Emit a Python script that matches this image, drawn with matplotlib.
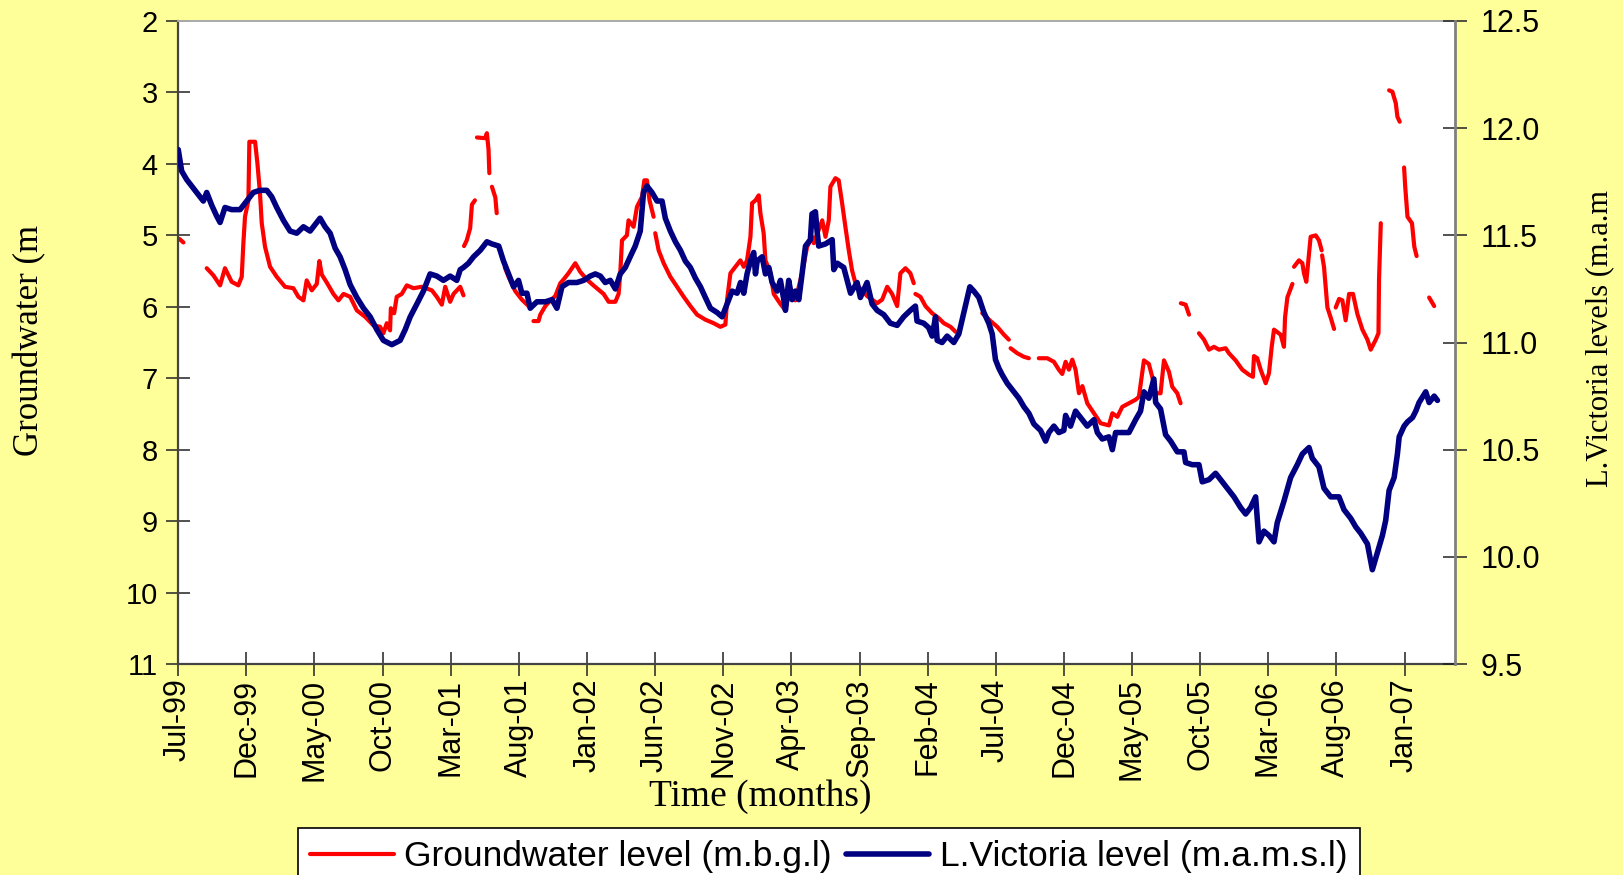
import matplotlib
matplotlib.use("Agg")
import matplotlib.pyplot as plt
import numpy as np
import pandas as pd

# months since Jul-1999 and levels
lake_month = [
    0.02, 0.27, 0.64, 1.0, 1.37, 1.86, 2.11, 2.48, 2.84, 3.09, 3.45, 3.94, 4.56, 5.05, 5.53,
    6.02, 6.52, 6.88, 7.25, 7.74, 8.23, 8.72, 9.21, 9.7, 10.19, 10.43, 10.8, 11.17, 11.54,
    11.9, 12.27, 12.64, 13.13, 13.62, 14.11, 14.6, 15.08, 15.7, 16.31, 16.68, 17.05, 17.54,
    18.02, 18.51, 19.0, 19.49, 19.98, 20.47, 20.72, 20.96, 21.33, 21.7, 22.19, 22.68, 23.05,
    23.55, 23.9, 24.27, 24.64, 25.0, 25.25, 25.62, 25.86, 26.35, 26.97, 27.46, 27.82, 28.19,
    28.67, 29.29, 29.78, 30.27, 30.64, 31.01, 31.37, 31.74, 32.11, 32.47, 32.84, 33.2, 33.57,
    33.94, 34.18, 34.43, 34.8, 35.17, 35.54, 35.78, 36.15, 36.52, 36.89, 37.25, 37.62, 37.99,
    38.36, 38.72, 39.09, 39.58, 39.95, 40.44, 40.68, 41.05, 41.3, 41.54, 41.78, 42.03, 42.27,
    42.4, 42.52, 42.89, 43.13, 43.38, 43.62, 43.99, 44.23, 44.48, 44.6, 44.84, 45.09, 45.33,
    45.58, 45.82, 46.07, 46.43, 46.55, 46.8, 46.92, 47.04, 47.54, 48.03, 48.15, 48.4, 48.88,
    49.13, 49.38, 49.86, 50.1, 50.59, 50.96, 51.33, 51.82, 52.3, 52.8, 53.28, 53.77, 54.14,
    54.26, 54.75, 55.11, 55.37, 55.62, 55.74, 56.1, 56.47, 56.96, 57.33, 57.7, 58.14, 58.43,
    58.8, 59.17, 59.53, 59.78, 60.02, 60.27, 60.51, 60.88, 61.25, 61.74, 62.11, 62.47, 62.84,
    63.33, 63.7, 63.94, 64.31, 64.67, 65.04, 65.17, 65.53, 65.9, 66.27, 66.76, 67.25, 67.5,
    67.86, 68.35, 68.6, 68.84, 69.33, 69.82, 70.31, 70.67, 70.92, 71.28, 71.65, 71.78, 72.14,
    72.51, 72.88, 73.37, 73.86, 73.98, 74.47, 74.96, 75.2, 75.69, 76.18, 76.43, 77.04, 77.53,
    78.02, 78.39, 78.75, 79.12, 79.37, 79.73, 80.1, 80.47, 80.71, 81.2, 81.69, 82.18, 82.55,
    83.04, 83.28, 83.77, 84.14, 84.63, 85.24, 85.61, 86.1, 86.47, 86.84, 87.33, 87.69, 88.06,
    88.43, 88.67, 88.92, 89.29, 89.53, 89.66, 90.02, 90.27, 90.64, 90.88, 91.12, 91.61, 91.86,
    92.23, 92.47,
]
lake_level = [
    11.90, 11.80, 11.76, 11.73, 11.70, 11.66, 11.70, 11.64, 11.59, 11.56, 11.63, 11.62, 11.62,
    11.66, 11.70, 11.71, 11.71, 11.68, 11.63, 11.57, 11.52, 11.51, 11.54, 11.52, 11.56, 11.58,
    11.54, 11.51, 11.44, 11.40, 11.34, 11.27, 11.21, 11.16, 11.12, 11.06, 11.01, 10.99, 11.01,
    11.06, 11.12, 11.18, 11.24, 11.32, 11.31, 11.29, 11.31, 11.29, 11.34, 11.35, 11.37, 11.40,
    11.43, 11.47, 11.46, 11.45, 11.38, 11.32, 11.26, 11.29, 11.23, 11.23, 11.16, 11.19, 11.19,
    11.20, 11.16, 11.26, 11.28, 11.28, 11.29, 11.31, 11.32, 11.31, 11.28, 11.29, 11.25, 11.32,
    11.35, 11.40, 11.45, 11.52, 11.70, 11.73, 11.70, 11.66, 11.66, 11.58, 11.52, 11.47, 11.43,
    11.38, 11.35, 11.30, 11.26, 11.21, 11.16, 11.14, 11.12, 11.20, 11.24, 11.23, 11.28, 11.23,
    11.32, 11.38, 11.42, 11.32, 11.38, 11.40, 11.32, 11.35, 11.28, 11.24, 11.29, 11.20, 11.15,
    11.29, 11.20, 11.24, 11.20, 11.32, 11.45, 11.48, 11.60, 11.61, 11.52, 11.45, 11.46, 11.48,
    11.34, 11.37, 11.35, 11.29, 11.23, 11.28, 11.21, 11.28, 11.18, 11.15, 11.13, 11.09, 11.08,
    11.12, 11.15, 11.17, 11.10, 11.09, 11.07, 11.03, 11.12, 11.01, 11.00, 11.03, 11.00, 11.04,
    11.14, 11.26, 11.24, 11.21, 11.14, 11.09, 11.04, 10.92, 10.88, 10.85, 10.81, 10.78, 10.74,
    10.70, 10.67, 10.62, 10.59, 10.54, 10.58, 10.61, 10.58, 10.59, 10.66, 10.61, 10.68, 10.65,
    10.61, 10.64, 10.58, 10.55, 10.56, 10.50, 10.58, 10.58, 10.58, 10.64, 10.68, 10.77, 10.74,
    10.83, 10.72, 10.69, 10.57, 10.54, 10.49, 10.49, 10.44, 10.43, 10.43, 10.35, 10.36, 10.39,
    10.37, 10.32, 10.28, 10.23, 10.20, 10.23, 10.28, 10.07, 10.12, 10.10, 10.07, 10.16, 10.26,
    10.37, 10.43, 10.48, 10.51, 10.46, 10.42, 10.32, 10.28, 10.28, 10.22, 10.18, 10.14, 10.11,
    10.06, 9.94, 10.02, 10.10, 10.17, 10.31, 10.37, 10.48, 10.56, 10.61, 10.63, 10.65, 10.68,
    10.72, 10.77, 10.72, 10.75, 10.73,
]

# groundwater record has gaps (None)
gw_month = [
    0.1, 0.4, 1.0,
    2.11, 2.6, 3.09, 3.45, 3.94, 4.43, 4.68, 4.80, 4.92, 5.17, 5.24, 5.66, 5.83, 6.02, 6.15,
    6.39, 6.76, 7.25, 7.86, 8.47, 8.84, 9.21, 9.45, 9.82, 10.19, 10.38, 10.56, 10.92, 11.41,
    11.78, 12.15, 12.64, 13.13, 13.74, 14.35, 14.84, 15.08, 15.33, 15.57, 15.63, 15.87, 16.06,
    16.43, 16.80, 17.29, 17.9, 18.64, 19.0, 19.37, 19.62, 19.98, 20.23, 20.47, 20.72, 20.96, 20.98,
    21.0, 21.2, 21.45, 21.58, 21.8, 21.9,
    21.95, 22.55, 22.68, 22.8, 22.86, 22.95,
    23.05, 23.3, 23.4, 23.7,
    24.0, 24.27, 24.76, 25.25, 25.74, 25.9,
    26.1, 26.47, 26.6, 26.97, 27.3, 27.7, 28.07, 28.3, 28.67, 29.17, 29.53, 30.02, 30.5, 31.25,
    31.62, 32.11, 32.35, 32.47, 32.6, 32.96, 33.08, 33.45, 33.7, 34.07, 34.24, 34.43, 34.62,
    34.92, 34.98,
    35.04, 35.29, 35.66, 36.15, 36.64, 37.13, 37.62, 38.11, 38.72, 39.33, 39.82, 40.19, 40.31,
    40.56, 40.92, 41.29, 41.54, 41.78, 42.03, 42.15, 42.4, 42.64, 42.76, 43.0, 43.13, 43.5,
    43.74, 44.23, 44.6, 44.84, 45.09, 45.33, 45.82, 46.19, 46.55, 46.68, 47.3, 47.54, 47.78,
    47.9, 48.27, 48.51, 48.76, 49.0, 49.25, 49.49, 49.74, 49.98, 50.6, 51.33, 51.7, 52.07,
    52.43, 52.8, 53.04, 53.41, 53.77, 54.02, 54.08,
    54.14, 54.51, 54.88, 55.37, 55.86, 56.23, 56.72, 57.09, 58.0,
    59.05, 59.66, 60.15, 60.64, 61.0, 61.06,
    61.13, 61.62, 62.11, 62.47, 62.8,
    63.2, 63.82, 64.31, 64.67, 64.92, 65.17, 65.41, 65.66, 65.9, 66.15, 66.4, 66.76, 67.25,
    67.74, 68.35, 68.6, 68.97, 69.33, 69.82, 70.31, 70.55, 70.92, 71.28, 71.53, 71.78, 72.14,
    72.39, 72.76, 73.0, 73.37, 73.61, 73.62,
    73.63, 73.98, 74.23, 74.6,
    74.96, 75.33, 75.7, 76.06, 76.43, 76.92, 77.16, 77.65, 78.14, 78.63, 78.92, 79.0, 79.24,
    79.49, 79.86, 80.1, 80.3, 80.47, 80.96, 81.2, 81.28, 81.45, 81.82, 81.88,
    81.94, 82.3, 82.55, 82.67, 82.84, 83.04, 83.16, 83.53, 83.77, 83.97, 83.98,
    84.0, 84.14, 84.26, 84.39, 84.63, 84.88, 84.94,
    85.0, 85.25, 85.49, 85.73, 85.98, 86.27, 86.59, 86.96, 87.33, 87.57, 87.94, 88.14, 88.18,
    88.31, 88.6,
    88.92, 89.16, 89.41, 89.53, 89.7, 89.9,
    90.02, 90.1, 90.27, 90.6, 90.77, 90.94, 91.4,
    91.86, 92.23,
]
gw_depth = [
    5.05, 5.10, None,
    5.46, 5.56, 5.70, 5.46, 5.65, 5.70, 5.58, 5.11, 4.74, 4.51, 3.69, 3.69, 3.99, 4.41, 4.83,
    5.16, 5.44, 5.58, 5.72, 5.74, 5.86, 5.91, 5.63, 5.77, 5.68, 5.36, 5.55, 5.66, 5.82,
    5.91, 5.82, 5.86, 6.05, 6.14, 6.26, 6.28, 6.37, 6.23, 6.33, 6.02, 6.09, 5.86,
    5.82, 5.70, 5.74, 5.72, 5.77, 5.86, 5.97, 5.72, 5.93, 5.82, 5.77, 5.72, 5.84, None,
    5.15, 5.07, 4.90, 4.57, 4.51, None,
    3.63, 3.64, 3.57, 3.80, 4.13, None,
    4.32, 4.47, 4.69, None,
    5.45, 5.58, 5.78, 5.90, 5.99, None,
    6.20, 6.20, 6.11, 5.99, 5.92, 5.85, 5.67, 5.62, 5.53, 5.39, 5.51, 5.62, 5.70, 5.82,
    5.93, 5.93, 5.82, 5.53, 5.07, 5.00, 4.79, 4.88, 4.60, 4.46, 4.23, 4.23, 4.51,
    4.74, None,
    4.97, 5.21, 5.39, 5.58, 5.72, 5.86, 5.99, 6.11, 6.18, 6.23, 6.28, 6.25, 5.91,
    5.53, 5.44, 5.35, 5.44, 5.35, 5.02, 4.55, 4.51, 4.44, 4.69, 4.97, 5.35, 5.53,
    5.82, 5.96, 6.05, 5.82, 5.82, 5.91, 5.53, 5.16, 5.02, 5.11, 4.79, 5.02, 4.79,
    4.32, 4.20, 4.23, 4.55, 4.88, 5.21, 5.49, 5.67, 5.72, 5.85, 5.95, 5.90, 5.72,
    5.82, 5.99, 5.53, 5.46, 5.53, 5.67, None,
    5.82, 5.86, 5.99, 6.09, 6.16, 6.23, 6.28, 6.35, None,
    6.09, 6.20, 6.28, 6.39, 6.46, None,
    6.58, 6.65, 6.70, 6.72, None,
    6.72, 6.72, 6.77, 6.88, 6.94, 6.77, 6.88, 6.74, 6.88, 7.21, 7.11, 7.35, 7.49,
    7.63, 7.66, 7.49, 7.54, 7.40, 7.35, 7.30, 7.26, 6.75, 6.80, 6.98, 7.21, 7.21,
    6.75, 6.91, 7.12, 7.21, 7.35, None,
    5.95, 5.97, 6.11, None,
    6.37, 6.46, 6.60, 6.56, 6.60, 6.58, 6.65, 6.75, 6.88, 6.95, 6.98, 6.69, 6.72,
    6.88, 7.07, 6.93, 6.56, 6.32, 6.39, 6.56, 6.15, 5.87, 5.68, None,
    5.44, 5.35, 5.39, 5.53, 5.65, 5.25, 5.02, 5.00, 5.07, 5.21, None,
    5.28, 5.44, 5.72, 6.01, 6.15, 6.31, None,
    6.01, 5.89, 5.91, 6.19, 5.82, 5.82, 6.10, 6.32, 6.46, 6.60, 6.46, 6.37, 5.62,
    4.83, None,
    2.97, 2.99, 3.15, 3.34, 3.41, None,
    4.05, 4.31, 4.74, 4.83, 5.16, 5.29, None,
    5.87, 5.99,
]

start = pd.Timestamp("1999-07-01")
tick_dates = [start + pd.DateOffset(months=5 * k) for k in range(19)]
tick_labels = [d.strftime("%b-%y") for d in tick_dates]


def to_dates(months):
    return start + pd.to_timedelta(np.array(months) * 30.4375, unit="D")


gw_vals = np.array([np.nan if v is None else v for v in gw_depth], dtype=float)

fig = plt.figure(figsize=(16.24, 8.75), dpi=100, facecolor="#FFFF99")
ax = fig.add_axes([0.1096, 0.2411, 0.7864, 0.7349])
ax.set_facecolor("white")

red_line, = ax.plot(to_dates(gw_month), gw_vals, color="#FF0000", lw=3.0,
                    solid_capstyle="round", solid_joinstyle="round")
ax.set_ylim(11, 2)
ax.set_yticks(range(2, 12))
ax.set_xlim(start, pd.Timestamp("2007-04-24"))
ax.set_xticks(tick_dates)
ax.set_xticklabels(tick_labels, rotation=90, family="Liberation Sans", fontsize=22)
for lbl in ax.get_yticklabels():
    lbl.set_family("Liberation Sans")
    lbl.set_fontsize(21)
ax.tick_params(axis="both", direction="inout", length=17, width=1.1, color="#222222")
ax.tick_params(axis="y", pad=6)
ax.tick_params(axis="x", pad=2)

ax2 = ax.twinx()
blue_line, = ax2.plot(to_dates(lake_month), lake_level, color="#000080", lw=4.0,
                      solid_capstyle="round", solid_joinstyle="round")
ax2.set_ylim(9.5, 12.5)
ax2.set_yticks(np.arange(9.5, 12.51, 0.5))
ax2.set_yticklabels([f"{v:.1f}" for v in np.arange(9.5, 12.51, 0.5)],
                    family="Liberation Sans", fontsize=22)
ax2.tick_params(axis="y", direction="inout", length=17, width=1.1, color="#222222", pad=10)

for s in ["left", "bottom"]:
    ax.spines[s].set_color("#444444")
    ax.spines[s].set_linewidth(1.6)
ax.spines["top"].set_color("#AAAAAA")
ax.spines["top"].set_linewidth(1.4)
ax.spines["right"].set_visible(False)
for s in ["left", "bottom", "top"]:
    ax2.spines[s].set_visible(False)
ax2.spines["right"].set_color("#808080")
ax2.spines["right"].set_linewidth(2)

fig.text(0.468, 0.089, "Time (months)", family="Liberation Serif", fontsize=27,
         ha="center", va="center")
fig.text(0.018, 0.611, "Groundwater (m", family="Liberation Serif", fontsize=25,
         rotation=90, ha="center", va="center")
fig.text(0.985, 0.613, "L.Victoria levels (m.a.m", family="Liberation Serif", fontsize=22,
         rotation=90, ha="center", va="center")

leg = fig.legend([red_line, blue_line],
                 ["Groundwater level (m.b.g.l)", "L.Victoria level (m.a.m.s.l)"],
                 loc="upper left", bbox_to_anchor=(298 / 1624, 1 - 828 / 875), ncol=2,
                 frameon=True, fancybox=False, edgecolor="black", framealpha=1,
                 prop={"family": "Liberation Sans", "size": 25.5}, handlelength=2.35,
                 handletextpad=0.3, columnspacing=0.4, borderpad=0.35, borderaxespad=0)
leg.get_frame().set_linewidth(1.2)

fig.savefig("out.png", dpi=100, facecolor=fig.get_facecolor())
